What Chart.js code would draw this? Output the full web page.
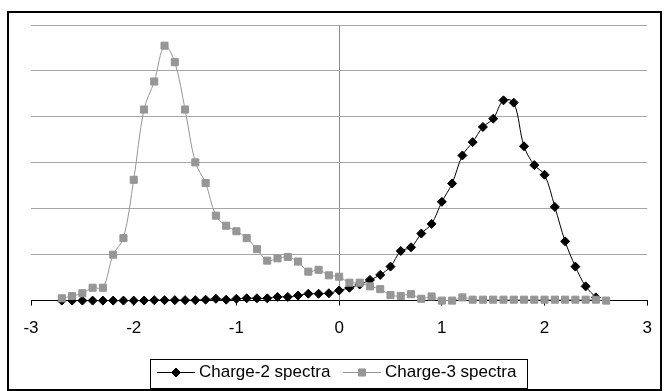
<!DOCTYPE html>
<html>
<head>
<meta charset="utf-8">
<script src="https://cdn.jsdelivr.net/npm/chart.js@4/dist/chart.umd.min.js"></script>
<style>
  html, body { margin: 0; padding: 0; background: #fff; }
  #cadre { position: relative; width: 665px; height: 391px; }
</style>
</head>
<body>
<div id="cadre"><canvas id="graphique-spectres"></canvas></div>
<script>
// abscisses communes aux deux séries (pas de 0.1)
const xValeurs = [-2.7, -2.6, -2.5, -2.4, -2.3, -2.2, -2.1, -2.0, -1.9, -1.8,
    -1.7, -1.6, -1.5, -1.4, -1.3, -1.2, -1.1, -1.0, -0.9, -0.8,
    -0.7, -0.6, -0.5, -0.4, -0.3, -0.2, -0.1, 0.0, 0.1, 0.2,
    0.3, 0.4, 0.5, 0.6, 0.7, 0.8, 0.9, 1.0, 1.1, 1.2,
    1.3, 1.4, 1.5, 1.6, 1.7, 1.8, 1.9, 2.0, 2.1, 2.2,
    2.3, 2.4, 2.5, 2.6]

// Charge-2 s'arrête à 2.5
const charge2 = [0, 0, 0, 0, 0, 0, 0, 0, 0, 0.01,
    0.01, 0.01, 0.01, 0.01, 0.02, 0.04, 0.02, 0.04, 0.05, 0.05,
    0.05, 0.08, 0.08, 0.11, 0.15, 0.15, 0.16, 0.22, 0.28, 0.35,
    0.45, 0.56, 0.74, 1.08, 1.16, 1.46, 1.67, 2.15, 2.55, 3.16,
    3.45, 3.78, 3.96, 4.36, 4.31, 3.36, 2.95, 2.74, 2.04, 1.29,
    0.74, 0.31, 0.07]

const charge3 = [0.05, 0.10, 0.16, 0.28, 0.28, 1.00, 1.36, 2.63, 4.16, 4.77,
    5.55, 5.19, 4.16, 3.01, 2.56, 1.85, 1.63, 1.51, 1.36, 1.12,
    0.87, 0.92, 0.95, 0.85, 0.63, 0.67, 0.55, 0.52, 0.39, 0.39,
    0.31, 0.25, 0.12, 0.10, 0.14, 0.04, 0.09, 0.00, 0.00, 0.07,
    0.02, 0.02, 0.02, 0.02, 0.02, 0.02, 0.02, 0.02, 0.02, 0.02,
    0.02, 0.02, 0.02, 0.00]

const nomsSeries = ["Charge-2 spectra", "Charge-3 spectra"]
const couleurs = ["#000000", "#969696"]
const police = '"Liberation Sans", Arial, sans-serif'

function enPoints(valeurs) {
    return valeurs.map((y, i) => ({ x: xValeurs[i], y: y }))
}

// cadre noir + légende encadrée en bas (trait + marqueur + texte)
const legendePlugin = {
    id: 'legendeEncadree',
    afterDraw(chart) {
        const ctx = chart.ctx
        ctx.save()
        ctx.fillStyle = '#000'
        ctx.fillRect(7, 11, 655, 2)   // haut
        ctx.fillRect(7, 11, 2, 380)   // gauche
        ctx.fillRect(660, 11, 2, 380) // droite
        ctx.fillRect(7, 389, 655, 2)  // bas

        ctx.strokeStyle = '#000'
        ctx.lineWidth = 1
        ctx.strokeRect(150.5, 359.5, 377, 29)

        const ligneY = 372.5
        const debuts = [157, 343]
        chart.data.datasets.forEach((ds, i) => {
            const x0 = debuts[i]
            ctx.strokeStyle = ds.borderColor
            ctx.lineWidth = 1
            ctx.beginPath()
            ctx.moveTo(x0, ligneY)
            ctx.lineTo(x0 + 38, ligneY)
            ctx.stroke()
            ctx.fillStyle = ds.pointBackgroundColor
            ctx.strokeStyle = ds.pointBorderColor
            Chart.helpers.drawPoint(ctx, {
                pointStyle: ds.pointStyle,
                radius: ds.pointRadius,
                rotation: 0,
                borderWidth: 1
            }, x0 + 19, ligneY)
            ctx.fillStyle = '#000'
            ctx.font = '17px ' + police
            ctx.textBaseline = 'middle'
            ctx.fillText(ds.label, x0 + 42, ligneY)
        })
        ctx.restore()
    }
}

const data = {
    datasets: [{
        label: nomsSeries[0],
        data: enPoints(charge2),
        borderColor: couleurs[0],
        borderWidth: 1,
        pointStyle: 'rectRot',
        pointRadius: 4.5,
        pointBackgroundColor: couleurs[0],
        pointBorderColor: couleurs[0],
        showLine: true,
        tension: 0.35,
        clip: false,
        order: 1
    }, {
        label: nomsSeries[1],
        data: enPoints(charge3),
        borderColor: couleurs[1],
        borderWidth: 1,
        pointStyle: 'rect',
        pointRadius: 5,
        pointBackgroundColor: couleurs[1],
        pointBorderColor: couleurs[1],
        showLine: true,
        tension: 0.35,
        clip: false,
        order: 0
    }]
}

const config = {
    type: 'scatter',
    data: data,
    options: {
        responsive: true,
        maintainAspectRatio: false,
        animation: false,
        layout: { padding: { left: 31, right: 15, top: 25, bottom: 39 } },
        plugins: {
            legend: { display: false },
            tooltip: { enabled: false }
        },
        scales: {
            x: {
                min: -3,
                max: 3,
                ticks: {
                    stepSize: 1,
                    color: '#000',
                    padding: 13,
                    font: { family: police, size: 17 }
                },
                grid: {
                    // seule la ligne verticale en 0 est tracée
                    color: (c) => (c.tick && c.tick.value === 0) ? '#8c8c8c' : 'rgba(0,0,0,0)',
                    tickColor: '#000',
                    tickLength: 5
                },
                border: { color: '#000', width: 1 }
            },
            y: {
                min: 0,
                max: 6,
                ticks: { display: false, stepSize: 1 },
                grid: { color: '#a6a6a6', drawTicks: false },
                border: { display: false }
            }
        }
    },
    plugins: [legendePlugin]
}

const graphique = new Chart(document.querySelector('#graphique-spectres'), config)
</script>
</body>
</html>
